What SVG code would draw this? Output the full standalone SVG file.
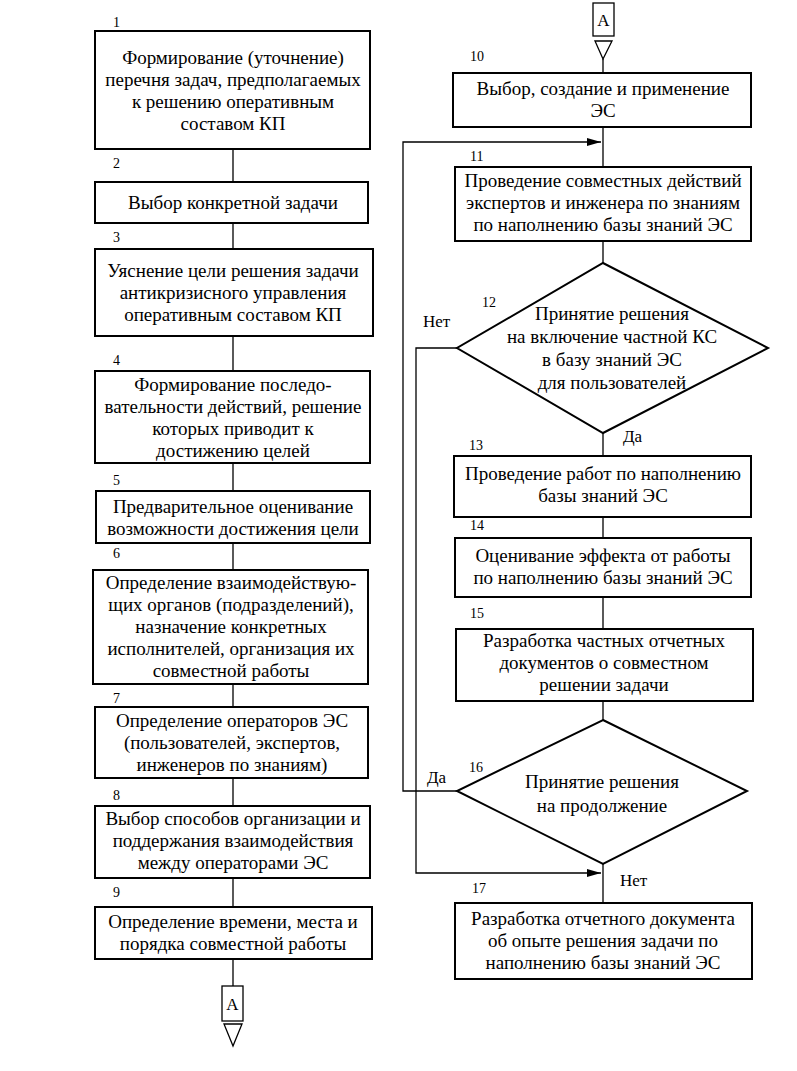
<svg xmlns="http://www.w3.org/2000/svg" width="797" height="1071" viewBox="0 0 797 1071">
<style>
.b{fill:#fff;stroke:#000;stroke-width:2}
.c{fill:none;stroke:#000;stroke-width:1.3}
text{font-family:'Liberation Serif','Times New Roman','DejaVu Serif',serif;fill:#000}
.t{font-size:19px;text-anchor:middle}
.n{font-size:14px}
.l{font-size:17px}
</style>
<defs>
<marker id="ar" viewBox="0 0 14 8" refX="14" refY="4" markerWidth="14" markerHeight="8" markerUnits="userSpaceOnUse" orient="auto">
<path d="M0,0 L14,4 L0,8 Z" fill="#000"/>
</marker>
</defs>
<rect width="797" height="1071" fill="#fff"/>
<g id="connectors">
<line class="c" x1="233" y1="149" x2="233" y2="182"/>
<line class="c" x1="233" y1="223" x2="233" y2="249"/>
<line class="c" x1="233" y1="336" x2="233" y2="371"/>
<line class="c" x1="233" y1="463" x2="233" y2="491"/>
<line class="c" x1="233" y1="543" x2="233" y2="570"/>
<line class="c" x1="233" y1="684" x2="233" y2="707"/>
<line class="c" x1="233" y1="778" x2="233" y2="806"/>
<line class="c" x1="233" y1="878" x2="233" y2="907"/>
<line class="c" x1="233" y1="959" x2="233" y2="986"/>
<line class="c" x1="603" y1="59" x2="603" y2="73"/>
<line class="c" x1="603" y1="127" x2="603" y2="167"/>
<line class="c" x1="603" y1="241" x2="603" y2="263"/>
<line class="c" x1="603" y1="433" x2="603" y2="456"/>
<line class="c" x1="603" y1="517" x2="603" y2="538"/>
<line class="c" x1="603" y1="597" x2="603" y2="629"/>
<line class="c" x1="603" y1="701" x2="603" y2="720"/>
<line class="c" x1="603" y1="864" x2="603" y2="903"/>
<polyline class="c" points="457,791 403,791 403,142 601,142" marker-end="url(#ar)"/>
<polyline class="c" points="457,348 416,348 416,873 601,873" marker-end="url(#ar)"/>
<text class="l" x="423" y="327">Нет</text>
<text class="l" x="623" y="442">Да</text>
<text class="l" x="427" y="783">Да</text>
<text class="l" x="620" y="886">Нет</text>
</g>
<g id="n1"><rect class="b" x="95" y="31" width="275" height="118"/><text class="n" x="113" y="27">1</text>
<text class="t" x="233" y="63.5">Формирование (уточнение)</text><text class="t" x="233" y="85.5">перечня задач, предполагаемых</text><text class="t" x="233" y="107.5">к решению  оперативным</text><text class="t" x="233" y="129.5">составом КП</text></g>
<g id="n2"><rect class="b" x="95" y="182" width="273" height="41"/><text class="n" x="113" y="168">2</text>
<text class="t" x="233" y="209">Выбор конкретной задачи</text></g>
<g id="n3"><rect class="b" x="95" y="249" width="278" height="87"/><text class="n" x="113" y="242">3</text>
<text class="t" x="233" y="277">Уяснение цели решения задачи</text><text class="t" x="233" y="299">антикризисного управления</text><text class="t" x="233" y="321">оперативным составом КП</text></g>
<g id="n4"><rect class="b" x="95" y="371" width="275" height="92"/><text class="n" x="113" y="365">4</text>
<text class="t" x="233" y="390.5">Формирование последо-</text><text class="t" x="233" y="412.5">вательности действий, решение</text><text class="t" x="233" y="434.5">которых приводит к</text><text class="t" x="233" y="456.5">достижению целей</text></g>
<g id="n5"><rect class="b" x="96" y="491" width="274" height="52"/><text class="n" x="113" y="485">5</text>
<text class="t" x="233" y="512.5">Предварительное оценивание</text><text class="t" x="233" y="534.5">возможности достижения цели</text></g>
<g id="n6"><rect class="b" x="93" y="570" width="275" height="114"/><text class="n" x="113" y="558">6</text>
<text class="t" x="231" y="588.5">Определение взаимодействую-</text><text class="t" x="231" y="610.5">щих органов (подразделений),</text><text class="t" x="231" y="632.5">назначение конкретных</text><text class="t" x="231" y="654.5">исполнителей, организация их</text><text class="t" x="231" y="676.5">совместной работы</text></g>
<g id="n7"><rect class="b" x="95" y="707" width="273" height="71"/><text class="n" x="113" y="703">7</text>
<text class="t" x="232" y="727">Определение операторов ЭС</text><text class="t" x="232" y="749">(пользователей, экспертов,</text><text class="t" x="232" y="771">инженеров по знаниям)</text></g>
<g id="n8"><rect class="b" x="95" y="806" width="275" height="72"/><text class="n" x="113" y="800">8</text>
<text class="t" x="233" y="825">Выбор способов организации и</text><text class="t" x="233" y="847">поддержания взаимодействия</text><text class="t" x="233" y="869">между операторами ЭС</text></g>
<g id="n9"><rect class="b" x="95" y="907" width="277" height="52"/><text class="n" x="113" y="897">9</text>
<text class="t" x="233" y="928">Определение времени, места и</text><text class="t" x="233" y="950">порядка совместной работы</text></g>
<g id="connA1"><rect fill="#fff" stroke="#000" stroke-width="1.3" x="222" y="986" width="21" height="35"/><text class="l" x="232.5" y="1010" text-anchor="middle">А</text>
<polygon fill="none" stroke="#000" stroke-width="1.3" points="224,1024 242,1024 233,1046"/></g>
<g id="connA2"><rect fill="#fff" stroke="#000" stroke-width="1.3" x="593" y="3" width="21" height="33"/><text class="l" x="603.5" y="26" text-anchor="middle">А</text>
<polygon fill="none" stroke="#000" stroke-width="1.3" points="595,41 612,41 603,59"/></g>
<g id="n10"><rect class="b" x="453" y="73" width="298" height="54"/><text class="n" x="470" y="61">10</text>
<text class="t" x="603" y="95">Выбор, создание и применение</text><text class="t" x="603" y="117">ЭС</text></g>
<g id="n11"><rect class="b" x="455" y="167" width="296" height="74"/><text class="n" x="470" y="161">11</text>
<text class="t" x="603" y="187">Проведение совместных действий</text><text class="t" x="603" y="209">экспертов и инженера по знаниям</text><text class="t" x="603" y="231">по наполнению базы знаний ЭС</text></g>
<g id="n12"><polygon class="b" points="603,263 768,348 603,433 457,348"/><text class="n" x="482" y="307">12</text>
<text class="t" x="612" y="320">Принятие решения</text><text class="t" x="612" y="343">на включение частной КС</text><text class="t" x="612" y="366">в базу знаний ЭС</text><text class="t" x="612" y="389">для пользователей</text></g>
<g id="n13"><rect class="b" x="454" y="456" width="297" height="61"/><text class="n" x="469" y="450">13</text>
<text class="t" x="603" y="480">Проведение работ по наполнению</text><text class="t" x="603" y="502">базы знаний ЭС</text></g>
<g id="n14"><rect class="b" x="455" y="538" width="296" height="59"/><text class="n" x="470" y="530">14</text>
<text class="t" x="603" y="562">Оценивание эффекта от работы</text><text class="t" x="603" y="584">по наполнению базы знаний ЭС</text></g>
<g id="n15"><rect class="b" x="456" y="629" width="297" height="72"/><text class="n" x="470" y="618">15</text>
<text class="t" x="604" y="647">Разработка частных отчетных</text><text class="t" x="604" y="669">документов о совместном</text><text class="t" x="604" y="691">решении задачи</text></g>
<g id="n16"><polygon class="b" points="603,720 747,791 603,864 457,791"/><text class="n" x="469" y="772">16</text>
<text class="t" x="602" y="788">Принятие решения</text><text class="t" x="602" y="812">на продолжение</text></g>
<g id="n17"><rect class="b" x="455" y="903" width="297" height="76"/><text class="n" x="472" y="893">17</text>
<text class="t" x="603" y="925">Разработка отчетного документа</text><text class="t" x="603" y="947">об опыте решения задачи по</text><text class="t" x="603" y="969">наполнению базы знаний ЭС</text></g>
</svg>
